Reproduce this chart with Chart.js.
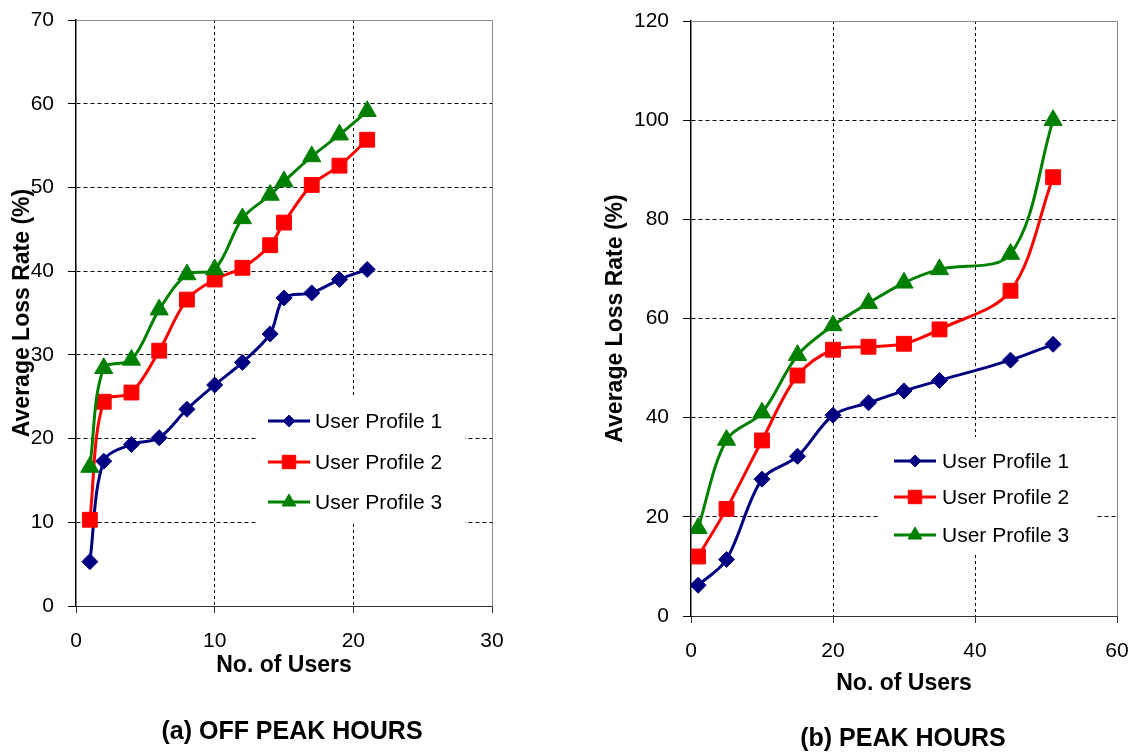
<!DOCTYPE html>
<html>
<head>
<meta charset="utf-8">
<title>Average Loss Rate - Off Peak / Peak Hours</title>
<script src="https://cdn.jsdelivr.net/npm/chart.js@4.4.1/dist/chart.umd.min.js"></script>
<style>
  body { margin: 0; background: #fff; font-family: "Liberation Sans", Arial, sans-serif; }
  #wrap { position: relative; width: 1136px; height: 752px; overflow: hidden; }
  canvas { position: absolute; top: 0; }
  #offChart { left: 0; }
  #peakChart { left: 568px; }
  .caption { position: absolute; width: 400px; text-align: center; font-weight: bold;
             font-size: 25px; line-height: 30px; color: #000; }
</style>
</head>
<body>
<div id="wrap">
  <canvas id="offChart" width="568" height="752"></canvas>
  <canvas id="peakChart" width="580" height="752"></canvas>
  <div class="caption" style="left:92px; top:715px;">(a) OFF PEAK HOURS</div>
  <div class="caption" style="left:703px; top:722px;">(b) PEAK HOURS</div>
</div>
<script>
// --- data ---
const seriesNames = ['User Profile 1', 'User Profile 2', 'User Profile 3'];

// (a) off peak hours
const offUsers    = [1, 2, 4, 6, 8, 10, 12, 14, 15, 17, 19, 21];
const offProfile1 = [5.3, 17.3, 19.3, 20.1, 23.5, 26.4, 29.1, 32.5, 36.8, 37.4, 39.0, 40.2];
const offProfile2 = [10.3, 24.4, 25.5, 30.5, 36.6, 39.0, 40.4, 43.1, 45.8, 50.3, 52.6, 55.7];
const offProfile3 = [16.6, 28.4, 29.4, 35.4, 39.6, 40.2, 46.3, 49.1, 50.7, 53.7, 56.3, 59.1];
const offXTicks = [0, 10, 20, 30];
const offYTicks = [0, 10, 20, 30, 40, 50, 60, 70];

// (b) peak hours
const peakUsers    = [1, 5, 10, 15, 20, 25, 30, 35, 45, 51];
const peakProfile1 = [6.2, 11.4, 27.6, 32.2, 40.5, 43.0, 45.4, 47.5, 51.6, 54.8];
const peakProfile2 = [12.0, 21.6, 35.4, 48.5, 53.7, 54.3, 54.9, 57.8, 65.6, 88.5];
const peakProfile3 = [17.7, 35.5, 41.0, 52.6, 58.6, 63.1, 67.2, 69.9, 73.0, 100];
const peakXTicks = [0, 20, 40, 60];
const peakYTicks = [0, 20, 40, 60, 80, 100, 120];

// --- look ---
const colors  = ['#000080', '#ff0000', '#008000'];
const markers = ['rectRot', 'rect', 'triangle'];
const markerSize = [8, 10.5, 10.5];
const legendMarkerSize = [6, 9.5, 8];

Chart.defaults.font.family = '"Liberation Sans", Arial, sans-serif';
Chart.defaults.color = '#000';

// legend drawn inside the plot, on a white box that hides the grid
const insideLegend = {
  id: 'insideLegend',
  afterDatasetsDraw(chart, args, opts) {
    const ctx = chart.ctx;
    ctx.save();
    ctx.fillStyle = '#fff';
    ctx.fillRect(opts.box[0], opts.box[1], opts.box[2], opts.box[3]);
    chart.data.datasets.forEach((ds, i) => {
      const y = opts.rowY[i];
      ctx.strokeStyle = ds.borderColor;
      ctx.lineWidth = 3;
      ctx.beginPath();
      ctx.moveTo(opts.lineX[0], y);
      ctx.lineTo(opts.lineX[1], y);
      ctx.stroke();
      ctx.fillStyle = ds.backgroundColor;
      ctx.lineWidth = 1;
      Chart.helpers.drawPoint(ctx, {
        pointStyle: ds.pointStyle, radius: legendMarkerSize[i], rotation: 0, borderWidth: 1
      }, (opts.lineX[0] + opts.lineX[1]) / 2, y);
      ctx.fillStyle = '#000';
      ctx.font = '21px "Liberation Sans", Arial, sans-serif';
      ctx.textBaseline = 'middle';
      ctx.textAlign = 'left';
      ctx.fillText(ds.label, opts.textX, y + 1);
    });
    ctx.restore();
  }
};

// grey frame on top and right of the plot
const plotFrame = {
  id: 'plotFrame',
  beforeDatasetsDraw(chart) {
    const {ctx, chartArea: a} = chart;
    ctx.save();
    ctx.strokeStyle = '#8c8c8c';
    ctx.lineWidth = 1;
    ctx.beginPath();
    ctx.moveTo(a.left, a.top + 0.5);
    ctx.lineTo(a.right + 0.5, a.top + 0.5);
    ctx.lineTo(a.right + 0.5, a.bottom);
    ctx.stroke();
    ctx.restore();
  }
};

function buildDatasets(xs, series) {
  return series.map((vals, i) => ({
    label: seriesNames[i],
    data: xs.map((x, j) => ({x: x, y: vals[j]})),
    borderColor: colors[i],
    backgroundColor: colors[i],
    borderWidth: 3,
    pointStyle: markers[i],
    pointRadius: markerSize[i],
    pointBorderWidth: 1,
    pointBorderColor: colors[i],
    tension: 0.33,
    order: 3 - i
  }));
}

function hideEdges(ticks) {
  const lo = ticks[0], hi = ticks[ticks.length - 1];
  return c => (c.tick && (c.tick.value === lo || c.tick.value === hi)) ? 'rgba(0,0,0,0)' : '#000';
}

function makeChart(id, xs, series, xTicks, yTicks, lay) {
  new Chart(document.getElementById(id), {
    type: 'line',
    data: { datasets: buildDatasets(xs, series) },
    options: {
      responsive: false,
      animation: false,
      events: [],
      layout: { padding: lay.padding },
      plugins: {
        legend: { display: false },
        tooltip: { enabled: false },
        insideLegend: lay.legend
      },
      scales: {
        x: {
          type: 'linear',
          min: xTicks[0],
          max: xTicks[xTicks.length - 1],
          afterFit: s => { s.height = lay.xHeight; },
          ticks: { stepSize: xTicks[1] - xTicks[0], padding: 16, font: { size: 21 }, color: '#000' },
          grid: { color: hideEdges(xTicks), tickColor: '#333', tickLength: 7, lineWidth: 1 },
          border: { color: '#333', width: 1, dash: [3, 3] },
          title: { display: true, text: 'No. of Users', font: { size: 23, weight: 'bold' }, padding: 0, color: '#000' }
        },
        y: {
          min: yTicks[0],
          max: yTicks[yTicks.length - 1],
          afterFit: s => { s.width = lay.yWidth; },
          // small lineHeight keeps the top label from pushing the plot down
          ticks: { stepSize: yTicks[1] - yTicks[0], padding: 14, font: { size: 21, lineHeight: 0.5 }, color: '#000' },
          grid: { color: hideEdges(yTicks), tickColor: '#000', tickLength: 8, lineWidth: 1 },
          border: { color: '#000', width: 1.5, dash: [4, 3] },
          title: { display: true, text: 'Average Loss Rate (%)', font: { size: 23, weight: 'bold' }, padding: 0, color: '#000' }
        }
      }
    },
    plugins: [plotFrame, insideLegend]
  });
}

// (a) off peak
makeChart('offChart', offUsers, [offProfile1, offProfile2, offProfile3], offXTicks, offYTicks, {
  padding: { left: 9, top: 20, right: 76, bottom: 73 },
  yWidth: 67,
  xHeight: 73,
  legend: { box: [257, 397, 208, 126], lineX: [268, 310], rowY: [421, 462, 502], textX: 315 }
});

// (b) peak
makeChart('peakChart', peakUsers, [peakProfile1, peakProfile2, peakProfile3], peakXTicks, peakYTicks, {
  padding: { left: 34, top: 21, right: 31, bottom: 55 },
  yWidth: 89,
  xHeight: 81,
  legend: { box: [312, 437, 215, 116], lineX: [326, 368], rowY: [461, 497, 535], textX: 374 }
});
</script>
</body>
</html>
